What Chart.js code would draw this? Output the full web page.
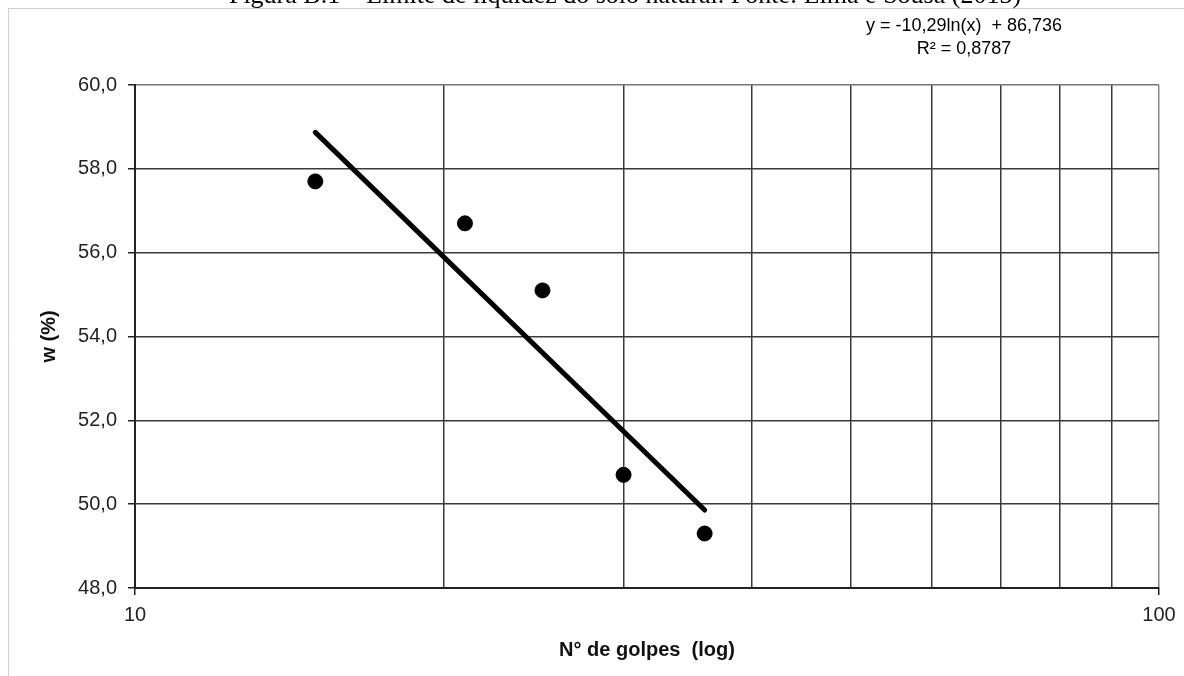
<!DOCTYPE html>
<html>
<head>
<meta charset="utf-8">
<script src="https://cdn.jsdelivr.net/npm/chart.js@4.4.0/dist/chart.umd.min.js"></script>
<style>
  html, body { margin: 0; padding: 0; background: #fff; overflow: hidden; }
  #wrap { position: relative; width: 1184px; height: 676px; }
  #fig-title {
    position: absolute; left: 625px; top: -18px; transform: translateX(-50%);
    font-family: "Liberation Serif", "Times New Roman", serif; font-size: 26px;
    line-height: 26px; white-space: nowrap; color: #000;
  }
</style>
</head>
<body>
<div id="wrap">
  <canvas id="chart" width="1184" height="676"></canvas>
  <div id="fig-title">Figura B.1 – Limite de liquidez do solo natural. Fonte: Lima e Sousa (2013)</div>
</div>
<script>
// ensaio de Casagrande: numero de golpes x umidade
const golpes = [15, 21, 25, 30, 36];
const umidade = [57.7, 56.7, 55.1, 50.7, 49.3];

// linha de tendencia logaritmica (extremos)
const tendX = [15, 36];
const tendY = [58.87, 49.86];

const xTicks = [10, 20, 30, 40, 50, 60, 70, 80, 90, 100];
const xLabeled = [10, 100];
const equacao = ['y = -10,29ln(x)  + 86,736', 'R² = 0,8787'];

const frame = {
  id: 'frame',
  beforeDraw(chart) {
    const c = chart.ctx;
    c.save();
    c.strokeStyle = '#cfcfcf';
    c.lineWidth = 1;
    c.beginPath();
    c.moveTo(8.5, 676);
    c.lineTo(8.5, 8.5);
    c.lineTo(1184, 8.5);
    c.stroke();
    c.restore();
  },
  afterDraw(chart) {
    const c = chart.ctx;
    c.save();
    c.fillStyle = '#000';
    c.font = '18px "Liberation Sans", Arial, sans-serif';
    c.textAlign = 'center';
    c.textBaseline = 'alphabetic';
    c.fillText(equacao[0], 964, 31);
    c.fillText(equacao[1], 964, 54);
    c.restore();
  }
};

new Chart(document.getElementById('chart'), {
  type: 'scatter',
  data: {
    datasets: [
      {
        label: 'tendencia',
        data: tendX.map((x, i) => ({ x, y: tendY[i] })),
        showLine: true,
        borderColor: '#000',
        borderWidth: 5,
        borderCapStyle: 'round',
        pointRadius: 0,
        order: 2
      },
      {
        label: 'w',
        data: golpes.map((x, i) => ({ x, y: umidade[i] })),
        backgroundColor: '#000',
        borderColor: '#000',
        pointRadius: 7.5,
        order: 1
      }
    ]
  },
  options: {
    responsive: false,
    animation: false,
    devicePixelRatio: 1,
    layout: { padding: { top: 85, right: 25, left: 0, bottom: 0 } },
    plugins: { legend: { display: false }, tooltip: { enabled: false } },
    scales: {
      x: {
        type: 'logarithmic',
        min: 10,
        max: 100,
        afterBuildTicks: s => { s.ticks = xTicks.map(v => ({ value: v })); },
        afterFit: s => { s.height = 88; },
        grid: {
          color: ctx => (ctx.tick && ctx.tick.value === 100) ? '#888' : '#3a3a3a',
          lineWidth: 1.5,
          tickLength: 7,
          tickColor: ctx => (ctx.tick && xLabeled.includes(ctx.tick.value)) ? '#222' : 'rgba(0,0,0,0)'
        },
        border: { color: '#222', width: 2 },
        ticks: {
          autoSkip: false,
          maxRotation: 0,
          padding: 8,
          color: '#222',
          font: { family: '"Liberation Sans", Arial, sans-serif', size: 20 },
          callback: v => xLabeled.includes(v) ? String(v) : ''
        },
        title: {
          display: true,
          text: 'N° de golpes  (log)',
          color: '#111',
          font: { family: '"Liberation Sans", Arial, sans-serif', size: 20, weight: 'bold' },
          padding: { top: 0, bottom: 14 }
        }
      },
      y: {
        min: 48,
        max: 60,
        afterFit: s => { s.width = 135; },
        grid: {
          color: ctx => (ctx.tick && ctx.tick.value === 60) ? '#777' : '#3a3a3a',
          lineWidth: 1.5,
          tickLength: 7,
          tickColor: '#222'
        },
        border: { color: '#222', width: 2 },
        ticks: {
          stepSize: 2,
          padding: 11,
          color: '#222',
          font: { family: '"Liberation Sans", Arial, sans-serif', size: 20 },
          callback: v => v.toFixed(1).replace('.', ',')
        },
        title: {
          display: true,
          text: 'w (%)',
          color: '#111',
          font: { family: '"Liberation Sans", Arial, sans-serif', size: 20, weight: 'bold' },
          padding: { top: 37, bottom: 0 }
        }
      }
    }
  },
  plugins: [frame]
});
</script>
</body>
</html>
